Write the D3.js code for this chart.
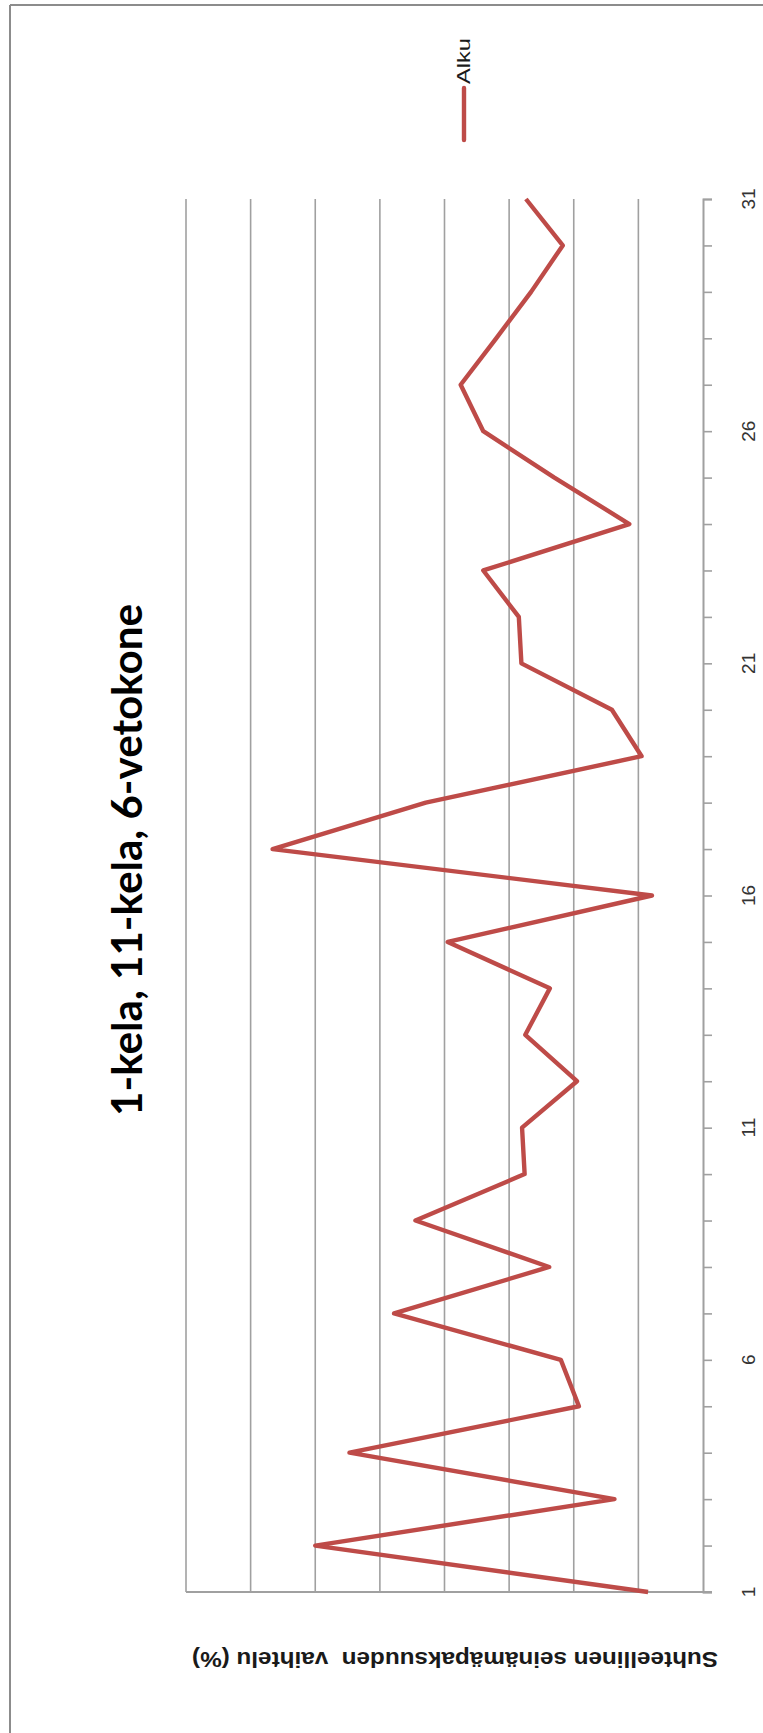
<!DOCTYPE html>
<html>
<head>
<meta charset="utf-8">
<script src="https://cdn.jsdelivr.net/npm/d3@7"></script>
<style>
  html, body { margin: 0; padding: 0; background: #fff; }
  svg { display: block; }
  text { white-space: pre; }
</style>
</head>
<body>
<svg id="chart" width="763" height="1733"></svg>
<script>
// Measurement positions along the line (categories 1..31)
const categories = d3.range(1, 32);
// Relative wall-thickness variation, series "Alku"
const alku = [
  0.85, 6.00, 1.37, 5.47, 1.92, 2.20, 4.78, 2.38, 4.45, 2.76,
  2.80, 1.95, 2.75, 2.37, 3.95, 0.79, 6.66, 4.29, 0.95, 1.41,
  2.81, 2.85, 3.40, 1.14, 2.30, 3.40, 3.75, 3.20, 2.66, 2.17,
  2.74
];
const categoryTickLabels = [1, 6, 11, 16, 21, 26, 31];
const valueDomain = [0, 8];
const seriesName = "Alku";
const chartTitle = "1-kela, 11-kela, 6-vetokone";
const valueAxisTitle = "Suhteellinen seinämäpaksuuden  vaihtelu (%)";

const svg = d3.select("#chart");
const gridColor = "#a0a0a0";
const lineColor = "#be4b48";

// Chart is laid out turned a quarter turn: categories run bottom-to-top,
// values grow toward the left.
const plot = { left: 186, right: 703, top: 199, bottom: 1592 };
const y = d3.scaleLinear().domain([1, 31]).range([plot.bottom, plot.top]);
const x = d3.scaleLinear().domain(valueDomain).range([plot.right, plot.left]);

// Outer frame (left and top edges)
svg.append("line").attr("x1", 10).attr("x2", 10).attr("y1", 5).attr("y2", 1733)
  .attr("stroke", "#8c8c8c").attr("stroke-width", 2);
svg.append("line").attr("x1", 10).attr("x2", 763).attr("y1", 5).attr("y2", 5)
  .attr("stroke", "#8c8c8c").attr("stroke-width", 2);

// Major gridlines for the value axis
svg.append("g").selectAll("line")
  .data(x.ticks(8).filter(v => v > valueDomain[0]))
  .join("line")
  .attr("x1", d => x(d)).attr("x2", d => x(d))
  .attr("y1", plot.top).attr("y2", plot.bottom)
  .attr("stroke", gridColor).attr("stroke-width", 1.6);

// Value axis line (no labels)
svg.append("line")
  .attr("x1", plot.left).attr("x2", plot.right + 9)
  .attr("y1", y(1)).attr("y2", y(1))
  .attr("stroke", gridColor).attr("stroke-width", 2);

// Category axis with a tick at every position
const catAxis = d3.axisRight(y)
  .tickValues(categories)
  .tickSize(9)
  .tickFormat(() => "");
const gAxis = svg.append("g")
  .attr("transform", `translate(${x(valueDomain[0])},0)`)
  .call(catAxis);
gAxis.select(".domain").attr("stroke", gridColor).attr("stroke-width", 2);
gAxis.selectAll(".tick line").attr("stroke", gridColor).attr("stroke-width", 1.6);

// Category labels, turned to read upward
svg.append("g").selectAll("text")
  .data(categoryTickLabels)
  .join("text")
  .attr("transform", d => `translate(748,${y(d)}) rotate(-90)`)
  .attr("text-anchor", "middle")
  .attr("dominant-baseline", "central")
  .attr("font-family", "Liberation Sans, Arial, sans-serif")
  .attr("font-size", 19)
  .attr("fill", "#333")
  .text(d => d);

// Series line
const line = d3.line()
  .x(d => x(d.v))
  .y(d => y(d.c));
svg.append("path")
  .datum(categories.map((c, i) => ({ c, v: alku[i] })))
  .attr("d", line)
  .attr("fill", "none")
  .attr("stroke", lineColor)
  .attr("stroke-width", 4.4)
  .attr("stroke-linejoin", "round");

// Title
svg.append("text")
  .attr("transform", "translate(126,860) rotate(-90)")
  .attr("text-anchor", "middle")
  .attr("dominant-baseline", "central")
  .attr("font-family", "Lato, 'Open Sans', sans-serif")
  .attr("font-weight", "bold")
  .attr("font-size", 42)
  .attr("textLength", 512)
  .attr("lengthAdjust", "spacingAndGlyphs")
  .attr("fill", "#000")
  .text(chartTitle);

// Value axis title, upside down
svg.append("text")
  .attr("transform", "translate(455,1659) rotate(180)")
  .attr("text-anchor", "middle")
  .attr("dominant-baseline", "central")
  .attr("font-family", "Liberation Sans, Arial, sans-serif")
  .attr("font-weight", "bold")
  .attr("font-size", 22)
  .attr("textLength", 526)
  .attr("lengthAdjust", "spacingAndGlyphs")
  .attr("fill", "#1a1a1a")
  .text(valueAxisTitle);

// Legend
const legend = svg.append("g");
legend.append("line")
  .attr("x1", 464).attr("x2", 464).attr("y1", 88).attr("y2", 140)
  .attr("stroke", lineColor).attr("stroke-width", 4.4).attr("stroke-linecap", "round");
legend.append("text")
  .attr("transform", "translate(464,84) rotate(-90)")
  .attr("text-anchor", "start")
  .attr("dominant-baseline", "central")
  .attr("font-family", "Liberation Sans, Arial, sans-serif")
  .attr("font-size", 18)
  .attr("textLength", 46)
  .attr("lengthAdjust", "spacingAndGlyphs")
  .attr("fill", "#1a1a1a")
  .text(seriesName);
</script>
</body>
</html>
